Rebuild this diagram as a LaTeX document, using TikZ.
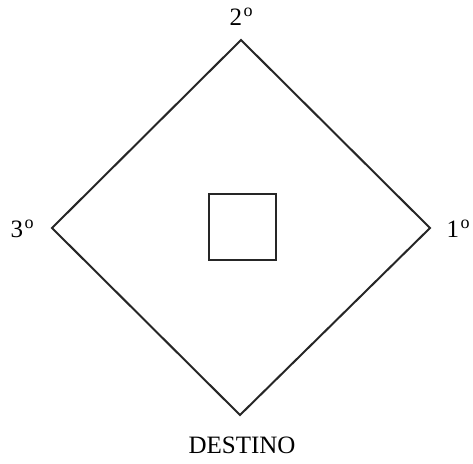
\documentclass[tikz,border=0pt]{standalone}
\usepackage{fontspec}
\setmainfont{Liberation Serif}
\newcommand{\ordo}{\kern1.5pt\raisebox{0.36em}{\fontsize{18}{19}\selectfont o}}
\begin{document}
\begin{tikzpicture}[x=1pt,y=-1pt,
  shape line/.style={draw=black!85,line width=2pt,line join=miter},
  lbl/.style={font=\fontsize{25}{28}\selectfont,inner sep=0pt}]
\useasboundingbox (0,0) rectangle (473,463);
\coordinate (t) at (241,40);
\coordinate (r) at (430,228);
\coordinate (b) at (240,415);
\coordinate (l) at (52,228);
\draw[shape line] (t) -- (r) -- (b) -- (l) -- cycle;
\draw[shape line] (209,194) rectangle (276,260);
\node[lbl] (n2) at (241,17) {2\ordo};
\node[lbl] (n3) at (22,229) {3\ordo};
\node[lbl] (n1) at (458,229) {1\ordo};
\node[lbl] (d) at (242,445) {DESTINO};
\end{tikzpicture}
\end{document}
